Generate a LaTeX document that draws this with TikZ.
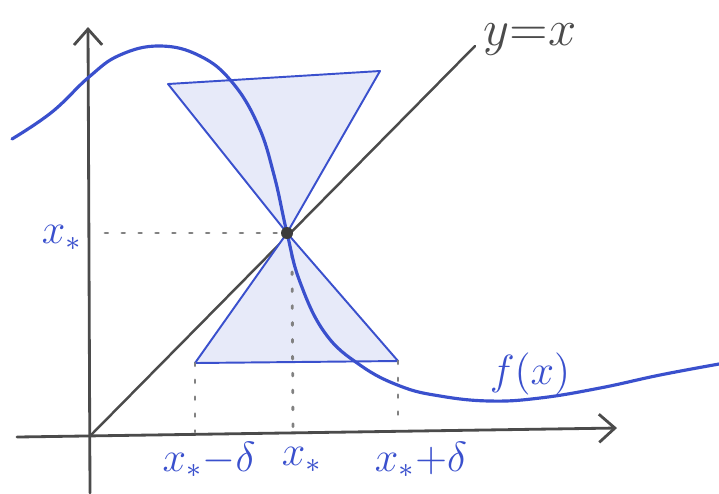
\documentclass[tikz,border=0pt]{standalone}
\usepackage{amsmath, amssymb}
\usetikzlibrary{arrows.meta}

\definecolor{pen}{RGB}{58,80,205}
\definecolor{pencil}{RGB}{75,75,75}

\begin{document}
\begin{tikzpicture}[>={Straight Barb[length=4.5pt,width=8pt]}, x=0.01cm, y=-0.01cm, line cap=round, line join=round]
        % --- 1. Parameters ---
        \def\xs{287}
        \def\ys{233}
        \def\dl{195}
        \def\dr{398}
        \def\low{363}
        \useasboundingbox (0,0) rectangle (719,493);
        % --- 2. Axes and diagonal ---
        \coordinate (O) at (91,435);
        \coordinate (P) at (\xs,\ys);
        \draw[->, pencil, line width=0.8pt] (17,437) -- (617,428);
        \draw[->, pencil, line width=0.8pt] (90,493) -- (88,27);
        \coordinate (Diag) at (475,46);
        \draw[pencil, line width=0.7pt] (O) -- (Diag);
        \node[pencil, font=\Large] (ylab) at (530,40) {$y{=}x$};
        % --- 3. Double cone ---
        \coordinate (UL) at (168,84);
        \coordinate (UR) at (380,71);
        \coordinate (LL) at (\dl,\low);
        \coordinate (LR) at (\dr,361);
        \fill[pen!12] (UL) -- (UR) -- (P) -- cycle;
        \fill[pen!12] (LL) -- (LR) -- (P) -- cycle;
        \draw[pen, line width=0.55pt] (UL) -- (UR) -- (P) -- cycle;
        \draw[pen, line width=0.55pt] (LL) -- (LR) -- (P) -- cycle;
        % --- 4. Dotted guides ---
        \draw[pencil!70, loosely dotted, line width=0.8pt] (105,\ys) -- (P);
        \draw[pencil!70, loosely dotted, line width=0.8pt] (LL) -- (\dl,432);
        \draw[pencil!70, loosely dotted, line width=0.8pt] (292,255) -- (293,430);
        \draw[pencil!70, loosely dotted, line width=0.8pt] (LR) -- (\dr,428);
        % --- 5. The map f ---
        \draw[pen, line width=0.9pt] plot[smooth, tension=0.7] coordinates {
            (12,139) (52,112) (89,77) (120,55) (160,46) (200,56) (232,82)
            (258,125) (274,175) (\xs,\ys) (300,282) (325,333) (360,365)
            (400,386) (440,396) (490,401) (540,398) (600,388) (660,375) (719,364)};
        \fill[pencil!80!black] (P) circle (6);
        \node[pen, font=\large] (flab) at (530,374) {$f(x)$};
        % --- 6. Labels ---
        \node[pen, font=\large] (xsy) at (62,238) {$x_*$};
        \node[pen, font=\large] (xl) at (209,460) {$x_*{-}\delta$};
        \node[pen, font=\large] (xm) at (302,460) {$x_*$};
        \node[pen, font=\large] (xr) at (421,460) {$x_*{+}\delta$};
\end{tikzpicture}
\end{document}
